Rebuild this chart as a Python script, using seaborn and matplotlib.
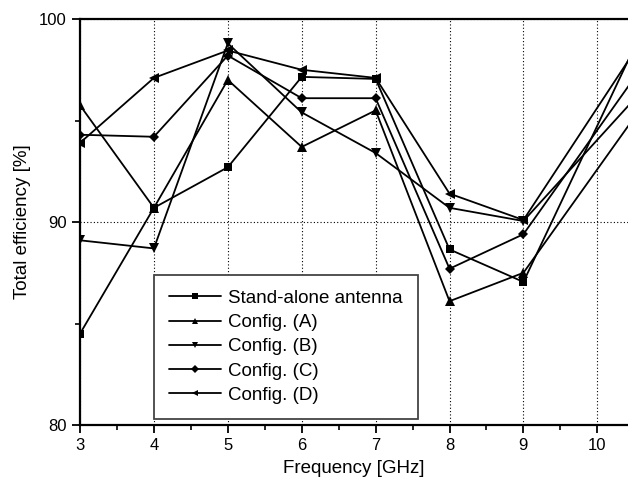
import pandas as pd
import seaborn as sns
import matplotlib.pyplot as plt
from matplotlib.ticker import MultipleLocator

# frequency points [GHz] (last point lies just past the cropped right edge)
freq = [3, 4, 5, 6, 7, 8, 9, 10.5]

stand_alone = [84.5, 90.7, 92.7, 97.15, 97.05, 88.65, 87.05, 98.6]
config_a = [95.75, 90.7, 97.0, 93.7, 95.5, 86.1, 87.5, 95.15]
config_b = [89.1, 88.7, 98.8, 95.4, 93.4, 90.7, 90.05, 96.05]
config_c = [94.3, 94.2, 98.2, 96.1, 96.1, 87.7, 89.4, 97.1]
config_d = [93.9, 97.1, 98.45, 97.5, 97.1, 91.4, 90.1, 98.4]

names = ["Stand-alone antenna", "Config. (A)", "Config. (B)", "Config. (C)", "Config. (D)"]
series = [stand_alone, config_a, config_b, config_c, config_d]

rows = []
for name, vals in zip(names, series):
    for f, v in zip(freq, vals):
        rows.append({"freq": f, "eff": v, "config": name})
df = pd.DataFrame(rows)

sns.set_style("ticks")
plt.rcParams["font.family"] = ["Liberation Sans", "DejaVu Sans"]
plt.rcParams["text.color"] = "black"
plt.rcParams["axes.labelcolor"] = "black"

fig = plt.figure(figsize=(6.28, 4.83), dpi=100)
ax = fig.add_axes([0.1274, 0.120, 0.8726, 0.8406])

markers = {"Stand-alone antenna": "s", "Config. (A)": "^", "Config. (B)": "v",
           "Config. (C)": "D", "Config. (D)": "<"}
palette = {n: "black" for n in names}

sns.lineplot(data=df, x="freq", y="eff", hue="config", style="config",
             markers=markers, dashes=False, palette=palette, hue_order=names,
             style_order=names, linewidth=1.3, markersize=6, markeredgewidth=0,
             ax=ax)

# triangles look smaller than squares at the same size, diamonds bigger
msize = {"s": 5.5, "^": 6.5, "v": 6.5, "D": 5, "<": 6.5}
for ln in ax.lines:
    m = ln.get_marker()
    if m in msize:
        ln.set_markersize(msize[m])

ax.set_xlim(3, 10.415)
ax.set_ylim(80, 100)
ax.xaxis.set_major_locator(MultipleLocator(1))
ax.xaxis.set_minor_locator(MultipleLocator(0.5))
ax.yaxis.set_major_locator(MultipleLocator(10))
ax.yaxis.set_minor_locator(MultipleLocator(5))
ax.tick_params(which="major", direction="out", length=6, width=1.3, labelsize=12,
               colors="black", labelcolor="black")
ax.tick_params(which="minor", direction="out", length=3.5, width=1.2, colors="black")
ax.grid(which="major", linestyle=(0, (1, 2)), color="black", linewidth=0.8)

for side in ["left", "bottom", "top"]:
    ax.spines[side].set_linewidth(1.6)
    ax.spines[side].set_color("black")
ax.spines["right"].set_visible(False)

ax.set_xlabel("Frequency [GHz]", fontsize=13.5, labelpad=5)
ax.set_ylabel("Total efficiency [%]", fontsize=13.5, labelpad=6)

handles, labels = ax.get_legend_handles_labels()
for h in handles:
    h.set_markersize(msize.get(h.get_marker(), 5) * 0.75)
leg = ax.legend(handles, labels, loc="lower left", bbox_to_anchor=(0.135, 0.015),
                fontsize=13.5, frameon=True, fancybox=False, handlelength=2.8,
                borderpad=0.8, labelspacing=0.38, handletextpad=0.35,
                borderaxespad=0)
leg.get_frame().set_edgecolor("#444444")
leg.get_frame().set_linewidth(1.3)
leg.get_frame().set_alpha(1)

fig.savefig("out.png", dpi=100)
